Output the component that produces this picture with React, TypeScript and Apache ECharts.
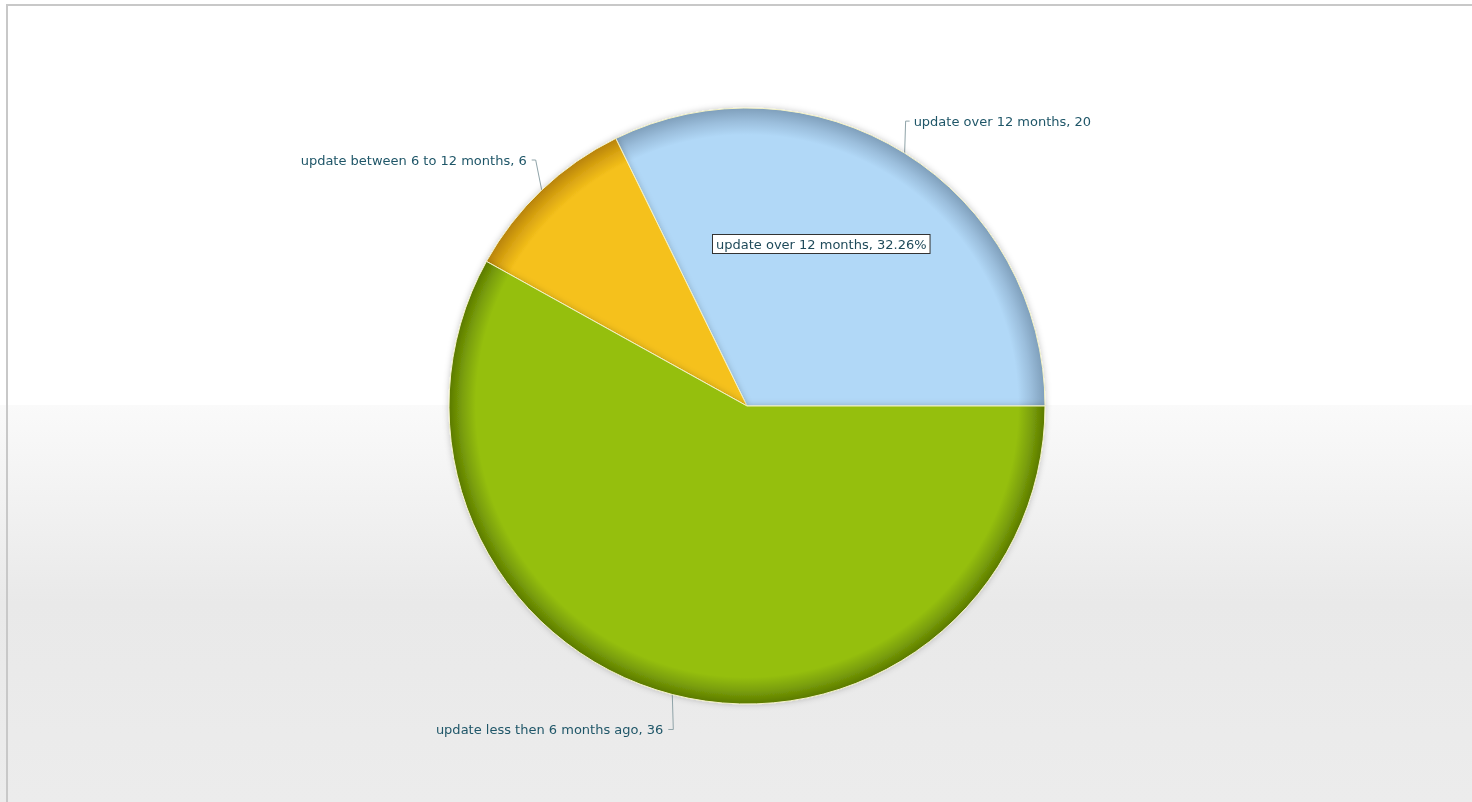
import React, { useEffect, useRef } from "react";
import * as echarts from "echarts";

const categories = [
  "update over 12 months",
  "update between 6 to 12 months",
  "update less then 6 months ago",
];
const values = [20, 6, 36];
const baseColors = ["#b1d8f7", "#f5c11b", "#95bf0e"];
const edgeColors = ["#7f9fbb", "#b88306", "#5b7a02"];
const highlightIndex = 0;

const W = 1472;
const H = 802;
const CX = 747;
const CY = 406;
const R = 298;
const FONT = 13;

function mix(a: string, b: string, t: number) {
  const pa = [1, 3, 5].map((k) => parseInt(a.slice(k, k + 2), 16));
  const pb = [1, 3, 5].map((k) => parseInt(b.slice(k, k + 2), 16));
  return (
    "#" +
    pa
      .map((v, i) =>
        Math.round(v + (pb[i] - v) * t)
          .toString(16)
          .padStart(2, "0")
      )
      .join("")
  );
}

export default function App() {
  const ref = useRef<HTMLDivElement>(null);
  useEffect(() => {
    if (!ref.current) return;
    const chart = echarts.init(ref.current, undefined, { renderer: "svg" });
    const total = values.reduce((a, b) => a + b, 0);
    const pct = ((values[highlightIndex] / total) * 100).toFixed(2);
    const data = categories.map((name, i) => ({
      name,
      value: values[i],
      itemStyle: {
        color: {
          type: "radial",
          x: CX,
          y: CY,
          r: R,
          global: true,
          colorStops: [
            { offset: 0, color: baseColors[i] },
            { offset: 0.91, color: baseColors[i] },
            { offset: 0.955, color: mix(baseColors[i], edgeColors[i], 0.45) },
            { offset: 1, color: edgeColors[i] },
          ],
        },
      },
    }));
    chart.setOption({
      animation: false,
      graphic: [
        {
          type: "rect",
          z: -10,
          silent: true,
          shape: { x: 0, y: 0, width: W, height: H },
          style: { fill: "#ffffff" },
        },
        {
          type: "rect",
          z: -9,
          silent: true,
          shape: { x: 0, y: 405, width: W, height: H - 405 },
          style: {
            fill: {
              type: "linear",
              x: 0,
              y: 0,
              x2: 0,
              y2: 1,
              colorStops: [
                { offset: 0, color: "#fafafa" },
                { offset: 0.5, color: "#e9e9e9" },
                { offset: 1, color: "#ececec" },
              ],
            },
          },
        },
        {
          type: "rect",
          z: -8,
          silent: true,
          shape: { x: 7, y: 5, width: W + 20, height: H + 20 },
          style: { fill: "none", stroke: "#c8c8c8", lineWidth: 2 },
        },
        {
          type: "text",
          z: 100,
          x: 713,
          y: 235,
          style: {
            text: `${categories[highlightIndex]}, ${pct}%`,
            fontFamily: "DejaVu Sans",
            fontSize: FONT,
            fill: "#1f4a5a",
            backgroundColor: "#ffffff",
            borderColor: "#333333",
            borderWidth: 1,
            padding: [3, 3, 2, 3],
          },
        },
      ],
      series: [
        {
          type: "pie",
          center: [CX, CY],
          radius: [0, R],
          startAngle: 0,
          clockwise: false,
          avoidLabelOverlap: false,
          data,
          itemStyle: {
            borderColor: "#f4f2c6",
            borderWidth: 1,
            shadowBlur: 6,
            shadowColor: "rgba(0,0,0,0.22)",
          },
          label: {
            show: true,
            position: "outside",
            formatter: "{b}, {c}",
            fontFamily: "DejaVu Sans",
            fontSize: FONT,
            color: "#1f5668",
          },
          labelLine: {
            show: true,
            length: 20,
            length2: 8,
            lineStyle: { color: "#8fa3a8", width: 1 },
          },
          labelLayout: (params: any) => {
            const a = params.labelLinePoints
              ? params.labelLinePoints[0]
              : [CX, CY];
            const ax = a[0];
            const ay = a[1];
            const i = params.dataIndex;
            if (i === 0) {
              const ex = ax + 1;
              const ey = ay - 32;
              return {
                x: ex + 8,
                y: ey,
                align: "left",
                verticalAlign: "middle",
                labelLinePoints: [
                  [ax, ay],
                  [ex, ey],
                  [ex + 4, ey],
                ],
              };
            } else if (i === 1) {
              const ex = ax - 6;
              const ey = ay - 30;
              return {
                x: ex - 9,
                y: ey,
                align: "right",
                verticalAlign: "middle",
                labelLinePoints: [
                  [ax, ay],
                  [ex, ey],
                  [ex - 4, ey],
                ],
              };
            } else {
              const ex = ax + 1;
              const ey = ay + 35;
              return {
                x: ex - 10,
                y: ey,
                align: "right",
                verticalAlign: "middle",
                labelLinePoints: [
                  [ax, ay],
                  [ex, ey],
                  [ex - 5, ey],
                ],
              };
            }
          },
        },
      ],
    });
    return () => chart.dispose();
  }, []);
  return (
    <div
      ref={ref}
      style={{ position: "fixed", left: 0, top: 0, width: W, height: H }}
    />
  );
}
